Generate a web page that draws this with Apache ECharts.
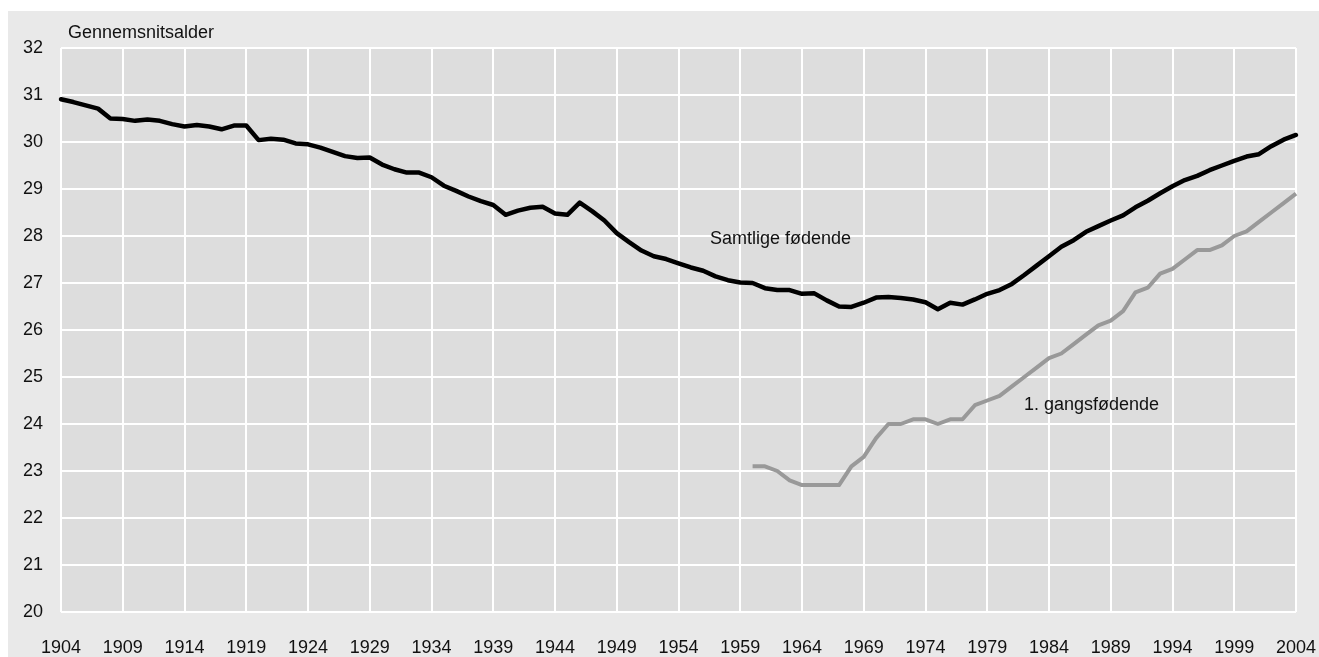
<!DOCTYPE html>
<html>
<head>
<meta charset="utf-8">
<script src="https://cdn.jsdelivr.net/npm/echarts@6/dist/echarts.min.js"></script>
<style>
  html, body { margin: 0; padding: 0; background: #ffffff; }
  #bg { position: absolute; left: 8px; top: 11px; width: 1311px; height: 646px; background: #e9e9e9; }
  #chart { position: absolute; left: 0; top: 0; width: 1319px; height: 657px; }
</style>
</head>
<body>
<div id="bg"></div>
<div id="chart"></div>
<script>
// Years (categories)
const years = [
  1904,1905,1906,1907,1908,1909,1910,1911,1912,1913,
  1914,1915,1916,1917,1918,1919,1920,1921,1922,1923,
  1924,1925,1926,1927,1928,1929,1930,1931,1932,1933,
  1934,1935,1936,1937,1938,1939,1940,1941,1942,1943,
  1944,1945,1946,1947,1948,1949,1950,1951,1952,1953,
  1954,1955,1956,1957,1958,1959,1960,1961,1962,1963,
  1964,1965,1966,1967,1968,1969,1970,1971,1972,1973,
  1974,1975,1976,1977,1978,1979,1980,1981,1982,1983,
  1984,1985,1986,1987,1988,1989,1990,1991,1992,1993,
  1994,1995,1996,1997,1998,1999,2000,2001,2002,2003,
  2004
];

// Samtlige fødende (all mothers), 1904-2004
const allMothers = [
  30.91,30.85,30.78,30.71,30.50,30.49,30.45,30.48,30.45,30.38,
  30.33,30.36,30.33,30.27,30.35,30.35,30.04,30.07,30.05,29.97,
  29.95,29.88,29.79,29.70,29.66,29.67,29.52,29.42,29.35,29.35,
  29.25,29.07,28.96,28.84,28.74,28.66,28.45,28.54,28.60,28.62,
  28.48,28.45,28.71,28.53,28.33,28.06,27.87,27.69,27.57,27.51,
  27.42,27.33,27.26,27.14,27.06,27.01,27.00,26.89,26.85,26.85,
  26.77,26.78,26.63,26.50,26.49,26.58,26.69,26.70,26.68,26.65,
  26.59,26.44,26.58,26.54,26.65,26.77,26.85,26.98,27.17,27.37,
  27.57,27.77,27.91,28.09,28.21,28.33,28.44,28.61,28.75,28.91,
  29.06,29.19,29.28,29.40,29.50,29.60,29.69,29.74,29.91,30.05,
  30.15
];

// 1. gangsfødende (first-time mothers), starting year and values 1960-2004
const firstStartYear = 1960;
const firstTimeMothers = [
  23.1,23.1,23.0,22.8,22.7,22.7,22.7,22.7,23.1,23.3,
  23.7,24.0,24.0,24.1,24.1,24.0,24.1,24.1,24.4,24.5,
  24.6,24.8,25.0,25.2,25.4,25.5,25.7,25.9,26.1,26.2,
  26.4,26.8,26.9,27.2,27.3,27.5,27.7,27.7,27.8,28.0,
  28.1,28.3,28.5,28.7,28.9
];

const yTicks = { min: 20, max: 32, step: 1 };
const yAxisTitle = 'Gennemsnitsalder';
const seriesNames = ['Samtlige fødende', '1. gangsfødende'];

// build padded data for first-time mothers
const firstData = years.map(y => {
  const i = y - firstStartYear;
  return (i >= 0 && i < firstTimeMothers.length) ? firstTimeMothers[i] : null;
});

const FONT = '"Liberation Sans", Arial, sans-serif';

const chart = echarts.init(document.getElementById('chart'), null, { renderer: 'canvas' });
chart.setOption({
  backgroundColor: 'transparent',
  animation: false,
  grid: { left: 61, right: 23, top: 48, bottom: 45, show: true, backgroundColor: '#dddddd', borderWidth: 0 },
  xAxis: {
    type: 'category',
    data: years.map(String),
    boundaryGap: false,
    axisLine: { show: false },
    axisTick: { show: false },
    axisLabel: { interval: 4, color: '#111', fontSize: 18, fontFamily: FONT, margin: 27 },
    splitLine: { show: true, interval: 4, lineStyle: { color: '#ffffff', width: 2 } }
  },
  yAxis: {
    type: 'value',
    min: yTicks.min, max: yTicks.max, interval: yTicks.step,
    axisLine: { show: false },
    axisTick: { show: false },
    axisLabel: { color: '#111', fontSize: 18, fontFamily: FONT, margin: 18 },
    splitLine: { show: true, lineStyle: { color: '#ffffff', width: 2 } }
  },
  series: [
    {
      name: seriesNames[0], type: 'line', data: allMothers,
      showSymbol: false, symbol: 'none',
      lineStyle: { color: '#000000', width: 4.5, join: 'round', cap: 'round' },
      z: 3
    },
    {
      name: seriesNames[1], type: 'line', data: firstData,
      showSymbol: false, symbol: 'none', connectNulls: false,
      lineStyle: { color: '#999999', width: 4, join: 'round', cap: 'butt' },
      z: 2
    }
  ],
  graphic: [
    { type: 'text', z: 100, x: 68, y: 33, style: { text: yAxisTitle, font: '18px ' + FONT, fill: '#111', textVerticalAlign: 'middle' } },
    { type: 'text', z: 100, x: 710, y: 239, style: { text: seriesNames[0], font: '18px ' + FONT, fill: '#111', textVerticalAlign: 'middle' } },
    { type: 'text', z: 100, x: 1024, y: 405, style: { text: seriesNames[1], font: '18px ' + FONT, fill: '#111', textVerticalAlign: 'middle' } }
  ]
});
</script>
</body>
</html>
